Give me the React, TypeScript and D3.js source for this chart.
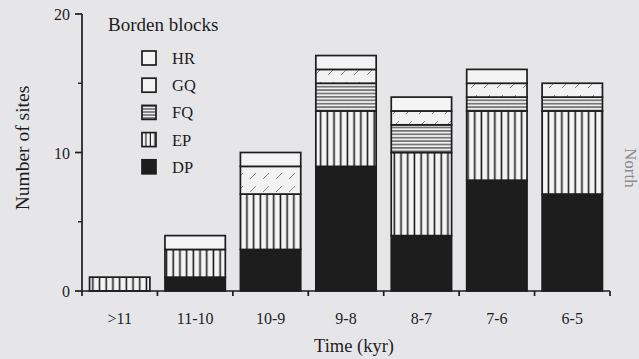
import * as d3 from "d3";

// time bins (kyr) and number of sites per Borden block
const periods = [">11", "11-10", "10-9", "9-8", "8-7", "7-6", "6-5"];
const dpSites = [0, 1, 3, 9, 4, 8, 7];
const epSites = [1, 2, 4, 4, 6, 5, 6];
const fqSites = [0, 0, 0, 2, 2, 1, 1];
const gqSites = [0, 0, 2, 1, 1, 1, 1];
const hrSites = [0, 1, 1, 1, 1, 1, 0];
const blocks = ["DP", "EP", "FQ", "GQ", "HR"];
const legendOrder = ["HR", "GQ", "FQ", "EP", "DP"];
const yTicks = [0, 10, 20];
const yMinorTicks = [5, 15];

const W = 639;
const H = 359;
const ink = "#1d1d1d";
const bg = "#e6e6e9";
const font = "'Liberation Serif', 'DejaVu Serif', serif";

const fillFor: Record<string, string> = {
  DP: ink,
  EP: "url(#ep)",
  FQ: "url(#fq)",
  GQ: "url(#gq)",
  HR: "#f4f4f4",
};

export default function App() {
  const rows = periods.map((p, i) => ({
    period: p,
    DP: dpSites[i],
    EP: epSites[i],
    FQ: fqSites[i],
    GQ: gqSites[i],
    HR: hrSites[i],
  }));

  const x = d3
    .scaleBand()
    .domain(periods)
    .range([82, 610])
    .paddingInner(0.2)
    .paddingOuter(0.1);
  const y = d3.scaleLinear().domain([0, 20]).range([291, 14]);

  const series = d3.stack<any>().keys(blocks)(rows);

  // tick marks sit on the boundaries between bins
  const boundaries = d3.range(periods.length + 1).map((i) => 82 + i * x.step());

  return (
    <svg
      width={W}
      height={H}
      style={{ position: "absolute", left: 0, top: 0, background: bg }}
      fontFamily={font}
    >
      <defs>
        <pattern id="ep" width={6.7} height={10} patternUnits="userSpaceOnUse" x={x(">11")}>
          <rect width={6.7} height={10} fill="#f4f4f4" />
          <line x1={3.3} y1={0} x2={3.3} y2={10} stroke={ink} strokeWidth={1.6} />
        </pattern>
        <pattern id="fq" width={10} height={3.4} patternUnits="userSpaceOnUse">
          <rect width={10} height={3.4} fill="#eeeeee" />
          <line x1={0} y1={1.7} x2={10} y2={1.7} stroke="#333" strokeWidth={1.1} />
        </pattern>
        <pattern id="gq" width={13} height={13} patternUnits="userSpaceOnUse">
          <rect width={13} height={13} fill="#f2f2f2" />
          <line x1={3} y1={10} x2={9} y2={4} stroke="#8a8a8a" strokeWidth={1} />
        </pattern>
        <pattern id="epLeg" width={4.5} height={10} patternUnits="userSpaceOnUse" x={142}>
          <rect width={4.5} height={10} fill="#f4f4f4" />
          <line x1={4} y1={0} x2={4} y2={10} stroke={ink} strokeWidth={1.3} />
        </pattern>
        <pattern id="fqLeg" width={10} height={3} patternUnits="userSpaceOnUse" y={107}>
          <rect width={10} height={3} fill="#eeeeee" />
          <line x1={0} y1={2} x2={10} y2={2} stroke="#333" strokeWidth={1.1} />
        </pattern>
      </defs>

      {/* stacked bars */}
      {series.map((s) => (
        <g key={s.key}>
          {s.map((d, i) =>
            d[1] - d[0] > 0 ? (
              <rect
                key={i}
                x={x(periods[i])}
                y={y(d[1])}
                width={x.bandwidth()}
                height={y(d[0]) - y(d[1])}
                fill={fillFor[s.key]}
                stroke={ink}
                strokeWidth={1.7}
              />
            ) : null
          )}
        </g>
      ))}

      {/* y axis */}
      <line x1={82} y1={y(20)} x2={82} y2={y(0)} stroke={ink} strokeWidth={1.7} />
      {yTicks.map((t) => (
        <g key={t}>
          <line x1={75} y1={y(t)} x2={82} y2={y(t)} stroke={ink} strokeWidth={1.7} />
          <text x={70} y={y(t) + 6} textAnchor="end" fontSize={16} fill={ink}>
            {t}
          </text>
        </g>
      ))}
      {yMinorTicks.map((t) => (
        <line key={t} x1={78} y1={y(t)} x2={82} y2={y(t)} stroke={ink} strokeWidth={1.4} />
      ))}

      {/* x axis */}
      <line x1={82} y1={y(0)} x2={610} y2={y(0)} stroke={ink} strokeWidth={1.7} />
      {boundaries.map((b, i) => (
        <line key={i} x1={b} y1={y(0)} x2={b} y2={y(0) + 5} stroke={ink} strokeWidth={1.7} />
      ))}
      {periods.map((p) => (
        <text
          key={p}
          x={(x(p) ?? 0) + x.bandwidth() / 2}
          y={324}
          textAnchor="middle"
          fontSize={16}
          fill={ink}
        >
          {p}
        </text>
      ))}

      <text x={354} y={352} textAnchor="middle" fontSize={18.5} fill={ink}>
        Time (kyr)
      </text>
      <text
        transform="translate(29,148) rotate(-90)"
        textAnchor="middle"
        fontSize={19.5}
        fill={ink}
      >
        Number of sites
      </text>

      {/* legend */}
      <text x={108} y={31} fontSize={19} fill={ink}>
        Borden blocks
      </text>
      {legendOrder.map((k, i) => {
        const cy = 58 + i * 27.2;
        const fill =
          k === "EP" ? "url(#epLeg)" : k === "FQ" ? "url(#fqLeg)" : k === "GQ" ? "#f4f4f4" : fillFor[k];
        return (
          <g key={k}>
            <rect
              x={142}
              y={cy - 7}
              width={14}
              height={14}
              fill={fill}
              stroke={ink}
              strokeWidth={1.7}
            />
            <text x={172} y={cy + 6} fontSize={16.5} fill={ink}>
              {k}
            </text>
          </g>
        );
      })}

      {/* edge of the neighbouring figure */}
      <text transform="translate(625,148) rotate(90)" fontSize={17} fill="#8a8a8a">
        North
      </text>
    </svg>
  );
}
